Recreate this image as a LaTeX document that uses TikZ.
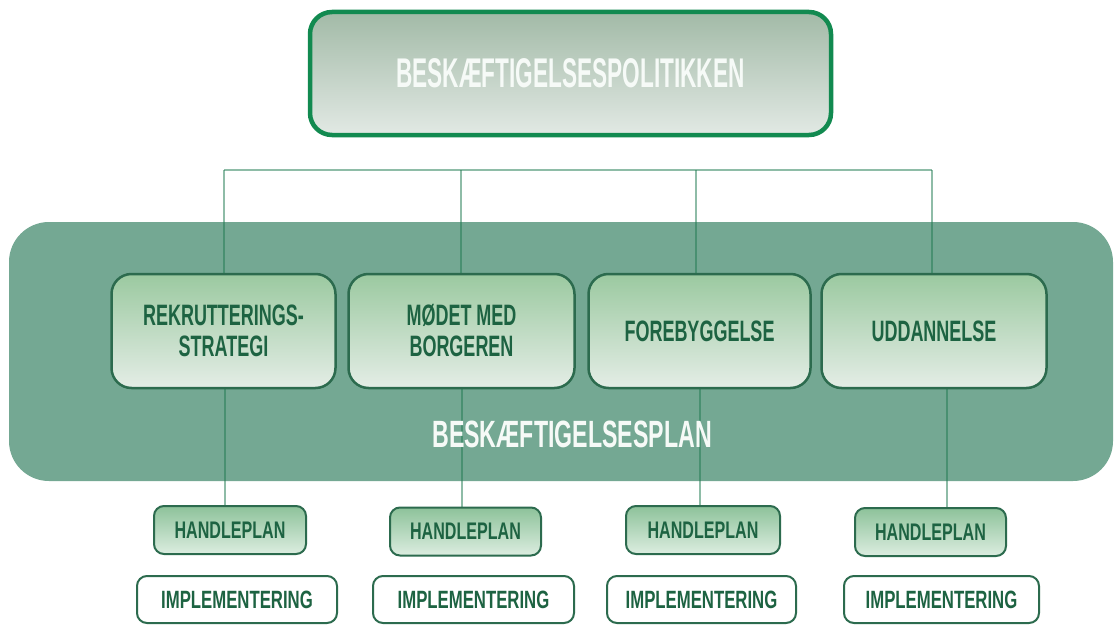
\documentclass[tikz,border=0pt]{standalone}
\usepackage{fontspec}
\newfontfamily\topfont[FakeStretch=0.545]{Liberation Sans Bold}
\newfontfamily\bandfont[FakeStretch=0.61]{Liberation Sans Bold}
\newfontfamily\midfont[FakeStretch=0.61]{Liberation Sans Bold}
\newfontfamily\smallfont[FakeStretch=0.67]{Liberation Sans Bold}
\definecolor{bandc}{HTML}{74A893}
\definecolor{midA}{HTML}{9BC9A0}
\definecolor{midB}{HTML}{E4EDE6}
\definecolor{midBorder}{HTML}{2C6B4E}
\definecolor{greenText}{HTML}{1D6342}
\definecolor{topA}{HTML}{A2BAA7}
\definecolor{topB}{HTML}{E2E9E4}
\definecolor{topBorder}{HTML}{128A50}
\definecolor{hpA}{HTML}{8DC29A}
\definecolor{hpB}{HTML}{DCEDE0}
\definecolor{lineC}{HTML}{1F7A50}
\definecolor{whiteText}{HTML}{F6FAF7}
\tikzset{
  topbox/.style={rounded corners=22pt, draw=topBorder, line width=4.5pt,
    top color=topA, bottom color=topB, minimum width=521pt, minimum height=123pt,
    inner sep=0pt, text=whiteText, font=\topfont\fontsize{41.5}{41.5}\selectfont},
  bandbox/.style={rounded corners=40pt, fill=bandc, draw=none,
    minimum width=1104pt, minimum height=259pt, inner sep=0pt},
  bandlabel/.style={text=whiteText, inner sep=0pt, font=\bandfont\fontsize{38}{38}\selectfont},
  midbox/.style={rounded corners=20pt, draw=midBorder, line width=2.5pt,
    top color=midA, bottom color=midB, minimum height=114pt, inner sep=0pt,
    align=center, text=greenText, font=\midfont\fontsize{29.5}{31}\selectfont},
  hpbox/.style={rounded corners=10pt, draw=midBorder, line width=2pt,
    top color=hpA, bottom color=hpB, minimum height=48pt, inner sep=0pt,
    text=greenText, font=\smallfont\fontsize{24}{24}\selectfont},
  imbox/.style={rounded corners=10pt, draw=midBorder, line width=2pt,
    fill=white, minimum height=47pt, inner sep=0pt,
    text=greenText, font=\smallfont\fontsize{25}{25}\selectfont},
  conn/.style={draw=lineC, draw opacity=0.5, line width=1.5pt}
}
\begin{document}
\begin{tikzpicture}[x=1pt,y=-1pt]
\useasboundingbox (0,0) rectangle (1114,626);
\fill[white] (0,0) rectangle (1114,626);

\node[bandbox] (band) at (561,351.5) {};

\coordinate (j1) at (224,170);
\coordinate (j2) at (461,170);
\coordinate (j3) at (696,170);
\coordinate (j4) at (932,170);
\coordinate (k1) at (225,0);
\coordinate (k2) at (462,0);
\coordinate (k3) at (700,0);
\coordinate (k4) at (947,0);

\node[topbox] (top) at (570.5,73.5) {BESKÆFTIGELSESPOLITIKKEN\hspace{20pt}};

\node[midbox, minimum width=224pt] (m1) at (223.5,331) {REKRUTTERINGS-\\STRATEGI};
\node[midbox, minimum width=226pt] (m2) at (461.5,331) {MØDET MED\\BORGEREN};
\node[midbox, minimum width=222pt] (m3) at (699.5,331) {FOREBYGGELSE};
\node[midbox, minimum width=225pt] (m4) at (934,331) {UDDANNELSE};

\node[hpbox, minimum width=152pt] (hp1) at (230,530) {HANDLEPLAN};
\node[hpbox, minimum width=151pt] (hp2) at (465.5,531.5) {HANDLEPLAN};
\node[hpbox, minimum width=154pt] (hp3) at (703,530) {HANDLEPLAN};
\node[hpbox, minimum width=151pt] (hp4) at (930.5,532) {HANDLEPLAN};

\node[imbox, minimum width=200pt] (im1) at (237,599.5) {IMPLEMENTERING};
\node[imbox, minimum width=201pt] (im2) at (473.5,599.5) {IMPLEMENTERING};
\node[imbox, minimum width=189pt] (im3) at (701.5,599.5) {IMPLEMENTERING};
\node[imbox, minimum width=195pt] (im4) at (941.5,599.5) {IMPLEMENTERING};

% connectors
\draw[conn] (j1) -- (j4);
\draw[conn] (j1) -- (j1 |- m1.north);
\draw[conn] (j2) -- (j2 |- m2.north);
\draw[conn] (j3) -- (j3 |- m3.north);
\draw[conn] (j4) -- (j4 |- m4.north);
\draw[conn] (m1.south -| k1) -- (hp1.north -| k1);
\draw[conn] (m2.south -| k2) -- (hp2.north -| k2);
\draw[conn] (m3.south -| k3) -- (hp3.north -| k3);
\draw[conn] (m4.south -| k4) -- (hp4.north -| k4);

\node[bandlabel] (plan) at (572,434) {BESKÆFTIGELSESPLAN};
\end{tikzpicture}
\end{document}
